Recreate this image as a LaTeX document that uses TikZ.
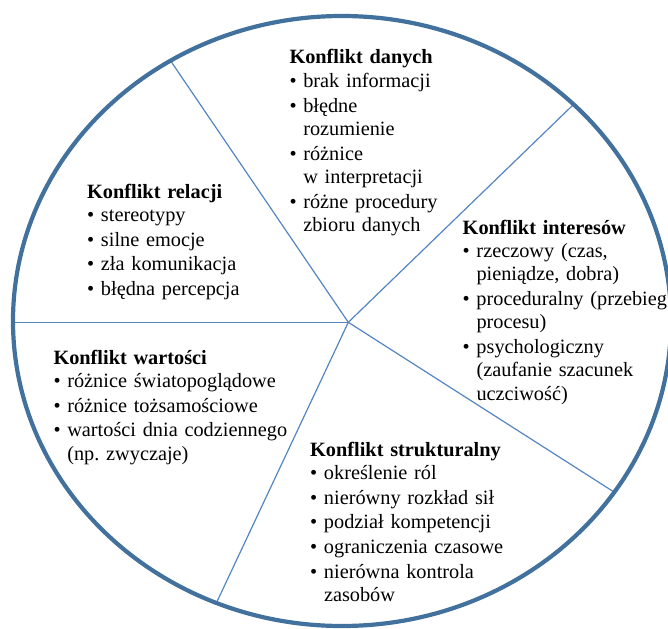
\documentclass[tikz,border=0pt]{standalone}
\usepackage{fontspec}
\setmainfont{Liberation Serif}
\definecolor{rim}{RGB}{65,113,156}
\definecolor{spoke}{RGB}{84,133,194}
\newcommand{\bitem}[1]{\makebox[13.8pt][l]{\textbullet}#1}
\newcommand{\bcont}[1]{\hspace*{13.8pt}#1}
\newcommand{\igap}{\\[1.5pt]}
\begin{document}
\begin{tikzpicture}[x=1pt,y=-1pt,
  rimline/.style={draw=rim,line width=4.2pt},
  spokeline/.style={draw=spoke,line width=1.2pt},
  block/.style={anchor=base west,inner sep=0pt,text width=330pt,align=left,
    font=\fontsize{20.3}{23.3}\selectfont}]
\useasboundingbox (0,0) rectangle (668,628);
\coordinate (hub) at (348.3,322.3);
\coordinate (e1) at (170.5,60.7);
\coordinate (e2) at (573.6,104.4);
\coordinate (e3) at (13.0,322.3);
\coordinate (e4) at (614.3,492.2);
\coordinate (e5) at (216.4,602.9);
\foreach \e in {e1,e2,e3,e4,e5} \draw[spokeline] (hub) -- (\e);
\draw[rimline] (342,321) ellipse [x radius=329pt, y radius=305pt];

\node[block] (danych) at (289.3,64) {\textbf{Konflikt danych}\\
  \bitem{brak informacji}\igap
  \bitem{błędne}\\ \bcont{rozumienie}\igap
  \bitem{różnice}\\ \bcont{w interpretacji}\igap
  \bitem{różne procedury}\\ \bcont{zbioru danych}};

\node[block] (relacji) at (87,198) {\textbf{Konflikt relacji}\\
  \bitem{stereotypy}\igap
  \bitem{silne emocje}\igap
  \bitem{zła komunikacja}\igap
  \bitem{błędna percepcja}};

\node[block] (interesow) at (462.5,234) {\textbf{Konflikt interesów}\\
  \bitem{rzeczowy (czas,}\\ \bcont{pieniądze, dobra)}\igap
  \bitem{proceduralny (przebieg}\\ \bcont{procesu)}\igap
  \bitem{psychologiczny}\\ \bcont{(zaufanie szacunek}\\ \bcont{uczciwość)}};

\node[block] (wartosci) at (53.3,364) {\textbf{Konflikt wartości}\\
  \bitem{różnice światopoglądowe}\igap
  \bitem{różnice tożsamościowe}\igap
  \bitem{wartości dnia codziennego}\\ \bcont{(np.\ zwyczaje)}};

\node[block] (strukt) at (310,456) {\textbf{Konflikt strukturalny}\\
  \bitem{określenie ról}\igap
  \bitem{nierówny rozkład sił}\igap
  \bitem{podział kompetencji}\igap
  \bitem{ograniczenia czasowe}\igap
  \bitem{nierówna kontrola}\\ \bcont{zasobów}};
\end{tikzpicture}
\end{document}
